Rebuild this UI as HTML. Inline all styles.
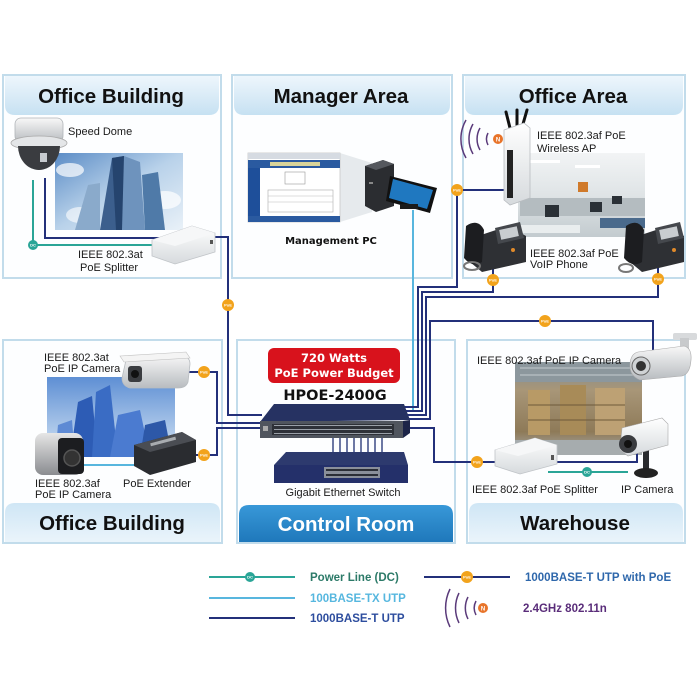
<!DOCTYPE html>
<html><head><meta charset="utf-8">
<style>
html,body{margin:0;padding:0;background:#fff;}
svg{display:block;}
.lbl{font-family:"Liberation Sans",Arial,sans-serif;font-size:11px;fill:#1a1a1a;}
.hdr{font-family:"Liberation Sans",Arial,sans-serif;font-size:20.5px;font-weight:bold;fill:#111;}
.leg{font-family:"Liberation Sans",Arial,sans-serif;font-size:11.5px;font-weight:bold;}
.poe{font-family:"Liberation Sans",Arial,sans-serif;font-size:4px;font-weight:bold;fill:#fff;}
</style></head>
<body>
<svg width="699" height="699" viewBox="0 0 699 699" xmlns="http://www.w3.org/2000/svg">
<defs>
<linearGradient id="hg" x1="0" y1="0" x2="0" y2="1"><stop offset="0" stop-color="#eef6fc"/><stop offset="1" stop-color="#c6e1f2"/></linearGradient>
<linearGradient id="hgb" x1="0" y1="0" x2="0" y2="1"><stop offset="0" stop-color="#cfe6f5"/><stop offset="1" stop-color="#eaf4fb"/></linearGradient>
<linearGradient id="cr" x1="0" y1="0" x2="0" y2="1"><stop offset="0" stop-color="#3898d8"/><stop offset="1" stop-color="#1f78bb"/></linearGradient>
<linearGradient id="sky1" x1="0" y1="0" x2="1" y2="1"><stop offset="0" stop-color="#5b8cc6"/><stop offset="0.5" stop-color="#b9d2ea"/><stop offset="1" stop-color="#e9f1f8"/></linearGradient>
<linearGradient id="sky2" x1="0" y1="0" x2="0" y2="1"><stop offset="0" stop-color="#5e8fd4"/><stop offset="1" stop-color="#d6e6f5"/></linearGradient>
<linearGradient id="off" x1="0" y1="0" x2="0" y2="1"><stop offset="0" stop-color="#f2f4f5"/><stop offset="0.5" stop-color="#dfe4e6"/><stop offset="1" stop-color="#c3cbcf"/></linearGradient>
<linearGradient id="wh" x1="0" y1="0" x2="0" y2="1"><stop offset="0" stop-color="#7f8b92"/><stop offset="0.3" stop-color="#a89678"/><stop offset="0.75" stop-color="#8e7a58"/><stop offset="1" stop-color="#a9aeb0"/></linearGradient>
<linearGradient id="wbox" x1="0" y1="0" x2="0" y2="1"><stop offset="0" stop-color="#ffffff"/><stop offset="1" stop-color="#d6dadd"/></linearGradient>
<linearGradient id="cam" x1="0" y1="0" x2="0" y2="1"><stop offset="0" stop-color="#f8f8f8"/><stop offset="1" stop-color="#b8bcc0"/></linearGradient>
<linearGradient id="silv" x1="0" y1="0" x2="0" y2="1"><stop offset="0" stop-color="#e6e6e6"/><stop offset="1" stop-color="#8a8c90"/></linearGradient>
</defs>

<!-- Panels -->
<g fill="#fdfeff" stroke="#c2dceb" stroke-width="2">
<rect x="3" y="75" width="218" height="203"/>
<rect x="232" y="75" width="220" height="203"/>
<rect x="463" y="75" width="222" height="203"/>
<rect x="3" y="340" width="219" height="203"/>
<rect x="237" y="340" width="218" height="203"/>
<rect x="467" y="340" width="218" height="203"/>
</g>
<!-- Headers top -->
<path d="M5,76 H219 V105 Q219,115 209,115 H15 Q5,115 5,105 Z" fill="url(#hg)"/>
<path d="M234,76 H450 V105 Q450,115 440,115 H244 Q234,115 234,105 Z" fill="url(#hg)"/>
<path d="M465,76 H683 V105 Q683,115 673,115 H475 Q465,115 465,105 Z" fill="url(#hg)"/>
<!-- Headers bottom -->
<path d="M5,542 V513 Q5,503 15,503 H210 Q220,503 220,513 V542 Z" fill="url(#hgb)"/>
<path d="M469,542 V513 Q469,503 479,503 H673 Q683,503 683,513 V542 Z" fill="url(#hgb)"/>
<path d="M239,542 V515 Q239,505 249,505 H443 Q453,505 453,515 V542 Z" fill="url(#cr)"/>

<text class="hdr" x="111" y="103" text-anchor="middle">Office Building</text>
<text class="hdr" x="341" y="103" text-anchor="middle">Manager Area</text>
<text class="hdr" x="573" y="103" text-anchor="middle">Office Area</text>
<text class="hdr" x="112" y="530" text-anchor="middle">Office Building</text>
<text class="hdr" x="346" y="531" text-anchor="middle" style="fill:#fff">Control Room</text>
<text class="hdr" x="575" y="530" text-anchor="middle">Warehouse</text>

<!-- ============ Photos ============ -->
<g>
<rect x="55" y="153" width="128" height="77" fill="url(#sky1)"/>
<ellipse cx="70" cy="170" rx="14" ry="7" fill="#fff" opacity="0.7"/>
<ellipse cx="165" cy="200" rx="16" ry="9" fill="#fff" opacity="0.7"/>
<ellipse cx="80" cy="215" rx="14" ry="8" fill="#fff" opacity="0.6"/>
<polygon points="100,230 112,158 124,156 120,230" fill="#3c5f8d"/>
<polygon points="120,230 124,156 140,162 145,230" fill="#6e93bd"/>
<polygon points="145,230 142,175 158,172 165,230" fill="#4f7aa8"/>
<polygon points="75,230 88,185 100,183 100,230" fill="#8aaacb"/>
<polygon points="112,158 124,156 122,230 116,230" fill="#25446e"/>
</g>
<g>
<rect x="518" y="153" width="127" height="84" fill="url(#off)"/>
<rect x="530" y="160" width="30" height="3" fill="#fff"/>
<rect x="575" y="165" width="25" height="3" fill="#fff"/>
<rect x="578" y="182" width="10" height="10" fill="#d07a2a"/>
<rect x="520" y="198" width="125" height="18" fill="#b4bcc0"/>
<rect x="545" y="205" width="14" height="12" fill="#2a3036"/>
<rect x="590" y="202" width="12" height="10" fill="#2a3036"/>
<rect x="612" y="196" width="10" height="8" fill="#2a3036"/>
<rect x="600" y="218" width="45" height="10" fill="#4a6a8c"/>
<rect x="520" y="225" width="60" height="8" fill="#e9edee"/>
</g>
<g>
<rect x="47" y="377" width="128" height="80" fill="url(#sky2)"/>
<polygon points="70,457 78,402 92,396 98,457" fill="#2d5cb5"/>
<polygon points="92,457 96,392 110,385 118,457" fill="#3a6cc4"/>
<polygon points="110,457 118,415 140,410 150,457" fill="#4b7bd0"/>
<polygon points="140,457 145,425 165,420 172,457" fill="#2d58a8"/>
<polygon points="55,457 58,425 72,420 75,457" fill="#5e8ad4"/>
</g>
<g>
<rect x="515" y="362" width="127" height="93" fill="url(#wh)"/>
<rect x="515" y="362" width="127" height="20" fill="#8c979d"/>
<line x1="520" y1="368" x2="640" y2="368" stroke="#c4cbd0" stroke-width="1"/>
<line x1="520" y1="375" x2="640" y2="375" stroke="#c4cbd0" stroke-width="1"/>
<rect x="528" y="390" width="22" height="45" fill="#b89a66"/>
<rect x="560" y="385" width="26" height="50" fill="#a88b58"/>
<rect x="595" y="388" width="30" height="47" fill="#bda174"/>
<line x1="528" y1="405" x2="625" y2="405" stroke="#6e5a3a" stroke-width="1"/>
<line x1="528" y1="420" x2="625" y2="420" stroke="#6e5a3a" stroke-width="1"/>
<rect x="515" y="440" width="127" height="15" fill="#a6acae"/>
</g>

<!-- ============ Connectors ============ -->
<g fill="none" stroke-width="2" stroke-linejoin="miter">
<path d="M413,210 V410" stroke="#58b6de"/>
<path d="M33,180 V245 H158" stroke="#2aa597"/>
<path d="M45,178 V238 H160" stroke="#23307a"/>
<path d="M212,237 H228 V415 H262" stroke="#23307a"/>
<path d="M186,372 H217 V423 H262" stroke="#23307a"/>
<path d="M192,455 H217 V428 H262" stroke="#23307a"/>
<path d="M82,465 H135" stroke="#58b6de"/>
<path d="M404,407 H418 V287 H457 V190 H508" stroke="#23307a"/>
<path d="M404,411 H422 V292 H493 V268" stroke="#23307a"/>
<path d="M404,415 H426 V297 H658 V268" stroke="#23307a"/>
<path d="M404,419 H430 V321 H653 V350" stroke="#23307a"/>
<path d="M404,428 H434 V462 H497" stroke="#23307a"/>
<path d="M552,462 H637 V452" stroke="#23307a"/>
<path d="M548,472 H628" stroke="#2aa597"/>
<g stroke="#3d4b85" stroke-width="1.5">
<line x1="333" y1="438" x2="333" y2="458"/><line x1="340" y1="438" x2="340" y2="458"/>
<line x1="347" y1="438" x2="347" y2="458"/><line x1="354" y1="438" x2="354" y2="458"/>
<line x1="361" y1="438" x2="361" y2="458"/><line x1="368" y1="438" x2="368" y2="458"/>
<line x1="375" y1="438" x2="375" y2="458"/><line x1="382" y1="438" x2="382" y2="458"/>
</g>
</g>

<!-- ============ Devices ============ -->
<g>
<rect x="15" y="118" width="48" height="24" rx="6" fill="url(#cam)" stroke="#b0b4b8" stroke-width="0.8"/>
<ellipse cx="39" cy="143" rx="28" ry="7" fill="#e4e6e8" stroke="#aaa" stroke-width="0.8"/>
<path d="M18,146 A21,24 0 0 0 60,146 Z" fill="#3a3c40"/>
<rect x="40" y="153" width="7" height="9" fill="#c8ccd0"/>
</g>
<g>
<path d="M152,240 L192,226 L215,233 L215,252 L175,264 L152,256 Z" fill="url(#wbox)" stroke="#c0c4c8" stroke-width="0.8"/>
<path d="M152,240 L192,226 L215,233 L175,246 Z" fill="#f6f7f8"/>
<rect x="210" y="240" width="3" height="4" fill="#555"/>
</g>
<text class="lbl" x="68" y="135">Speed Dome</text>
<text class="lbl" x="78" y="258">IEEE 802.3at</text>
<text class="lbl" x="80" y="271">PoE Splitter</text>

<g>
<polygon points="340,153 372,163 372,212 340,222" fill="#e6eaed"/>
<rect x="248" y="153" width="92" height="69" fill="#fff" stroke="#c8c8c8" stroke-width="0.8"/>
<rect x="248" y="153" width="92" height="6" fill="#d6dbe2"/>
<rect x="248" y="160" width="92" height="8" fill="#2a5aa0"/>
<rect x="270" y="162" width="50" height="4" fill="#d8d49a"/>
<rect x="248" y="168" width="12" height="50" fill="#1e4f9a"/>
<rect x="285" y="172" width="20" height="12" fill="none" stroke="#999" stroke-width="0.6"/>
<rect x="268" y="190" width="65" height="22" fill="none" stroke="#aaa" stroke-width="0.6"/>
<line x1="268" y1="196" x2="333" y2="196" stroke="#bbb" stroke-width="0.5"/>
<line x1="268" y1="202" x2="333" y2="202" stroke="#bbb" stroke-width="0.5"/>
<rect x="248" y="216" width="92" height="6" fill="#2a5aa0"/>
<polygon points="365,166 383,160 394,164 394,206 376,212 365,206" fill="#2b2d31"/>
<polygon points="365,166 383,160 394,164 376,170" fill="#55585e"/>
<rect x="369" y="182" width="4" height="2" fill="#888"/>
<polygon points="390,176 437,188 430,213 386,201" fill="#111"/>
<polygon points="393,179 433,190 427,209 389,198" fill="#1f78c0"/>
<rect x="400" y="204" width="18" height="5" fill="#1b1b1b"/>
</g>
<text x="331" y="244" text-anchor="middle" style="font-family:'DejaVu Sans',Verdana,sans-serif;font-size:10px;font-weight:bold;fill:#111">Management PC</text>

<g>
<g stroke="#111" stroke-width="3" stroke-linecap="round">
<line x1="510" y1="128" x2="506" y2="112"/><line x1="517" y1="126" x2="517" y2="110"/><line x1="523" y1="124" x2="527" y2="110"/>
</g>
<polygon points="504,130 524,123 530,128 530,198 510,205 504,200" fill="url(#wbox)" stroke="#b8bcc0" stroke-width="0.8"/>
<rect x="507" y="150" width="6" height="48" fill="#222"/>
</g>
<g fill="none" stroke="#5a3a7a" stroke-width="1.5">
<path d="M488,133 A13,13 0 0 0 488,145"/>
<path d="M480,128 A22,22 0 0 0 480,150"/>
<path d="M473,124 A30,30 0 0 0 473,154"/>
<path d="M466,120 A38,38 0 0 0 466,158"/>
</g>
<circle cx="498" cy="139" r="5" fill="#e8742a"/>
<text x="498" y="141.5" text-anchor="middle" style="font-family:'Liberation Sans',sans-serif;font-size:6px;font-weight:bold;fill:#fff">N</text>
<text class="lbl" x="537" y="139">IEEE 802.3af PoE</text>
<text class="lbl" x="537" y="152">Wireless AP</text>

<g>
<polygon points="472,238 508,226 526,236 526,262 482,272 470,262" fill="#2e3034"/>
<polygon points="495,228 520,222 524,238 498,244" fill="#45484d"/>
<rect x="500" y="228" width="18" height="10" fill="#c9cdd0" transform="rotate(-12 509 233)"/>
<path d="M466,226 Q478,218 484,230 L482,262 Q472,268 464,258 Z" fill="#1c1d20"/>
<ellipse cx="472" cy="266" rx="8" ry="4" fill="none" stroke="#777" stroke-width="2"/>
<circle cx="513" cy="250" r="2" fill="#e08a2a"/>
</g>
<text class="lbl" x="530" y="257">IEEE 802.3af PoE</text>
<text class="lbl" x="530" y="268">VoIP Phone</text>
<g>
<polygon points="632,238 668,226 684,236 684,262 642,272 630,262" fill="#2e3034"/>
<polygon points="655,228 680,222 684,238 658,244" fill="#45484d"/>
<rect x="660" y="228" width="18" height="10" fill="#c9cdd0" transform="rotate(-12 669 233)"/>
<path d="M626,226 Q638,218 644,230 L642,262 Q632,268 624,258 Z" fill="#1c1d20"/>
<ellipse cx="626" cy="268" rx="7" ry="4" fill="none" stroke="#777" stroke-width="2"/>
<circle cx="674" cy="250" r="2" fill="#e08a2a"/>
</g>

<g>
<path d="M126,360 L180,355 Q190,356 190,364 L188,382 Q186,388 178,388 L130,388 Q122,386 122,378 Z" fill="url(#cam)" stroke="#b8bcc0" stroke-width="0.8"/>
<path d="M120,356 L186,352 L190,358 L124,362 Z" fill="#f4f4f4" stroke="#c0c0c0" stroke-width="0.6"/>
<rect x="128" y="366" width="14" height="16" rx="3" fill="#3a3c40"/>
<circle cx="135" cy="374" r="4" fill="#111"/>
</g>
<text class="lbl" x="44" y="361">IEEE 802.3at</text>
<text class="lbl" x="44" y="372">PoE IP Camera</text>
<g>
<rect x="35" y="433" width="48" height="42" rx="8" fill="url(#silv)"/>
<rect x="58" y="438" width="26" height="36" rx="4" fill="#1c1d20"/>
<circle cx="72" cy="458" r="8" fill="#333" stroke="#555" stroke-width="1.5"/>
</g>
<g>
<polygon points="134,445 182,432 196,440 196,462 150,475 134,466" fill="#2a2c30"/>
<polygon points="134,445 182,432 196,440 150,452" fill="#4a4d53"/>
<rect x="150" y="440" width="26" height="3" fill="#a8acb0" transform="rotate(-15 163 441)"/>
</g>
<text class="lbl" x="35" y="487">IEEE 802.3af</text>
<text class="lbl" x="35" y="498">PoE IP Camera</text>
<text class="lbl" x="123" y="487">PoE Extender</text>

<rect x="268" y="348" width="132" height="35" rx="6" fill="#d8121c"/>
<text x="334" y="362" text-anchor="middle" style="font-family:'DejaVu Sans',Verdana,sans-serif;font-size:11.5px;font-weight:bold;fill:#fff">720 Watts</text>
<text x="334" y="377" text-anchor="middle" style="font-family:'DejaVu Sans',Verdana,sans-serif;font-size:11.5px;font-weight:bold;fill:#fff">PoE Power Budget</text>
<text x="335" y="400" text-anchor="middle" style="font-family:'DejaVu Sans',Verdana,sans-serif;font-size:14.5px;font-weight:bold;fill:#111">HPOE-2400G</text>
<g>
<polygon points="274,404 404,404 410,420 260,422" fill="#263262"/>
<rect x="260" y="421" width="143" height="17" fill="#50555e"/>
<polygon points="403,421 410,420 410,433 403,438" fill="#1c2448"/>
<rect x="272" y="424" width="122" height="11" fill="#2e3138"/>
<g fill="#9aa0a8">
<rect x="274" y="425" width="118" height="1"/><rect x="274" y="429" width="118" height="1"/><rect x="274" y="433" width="118" height="1"/>
</g>
<rect x="263" y="426" width="5" height="5" fill="#aaa"/>
</g>
<g>
<polygon points="286,452 404,452 408,465 274,465" fill="#2d3a6e"/>
<rect x="274" y="465" width="134" height="18" fill="#24306a"/>
<rect x="324" y="467" width="56" height="11" fill="#8a8f9a"/>
<g fill="#2b2e36">
<rect x="326" y="469" width="52" height="2"/><rect x="326" y="474" width="52" height="2"/>
</g>
</g>
<text class="lbl" x="343" y="496" text-anchor="middle">Gigabit Ethernet Switch</text>

<g>
<rect x="673" y="333" width="24" height="7" rx="2" fill="#d8dadc"/>
<rect x="680" y="338" width="9" height="16" fill="#c8cacc"/>
<path d="M638,352 L684,346 Q692,348 691,360 Q690,374 682,376 L640,380 Q630,376 630,366 Q630,354 638,352 Z" fill="url(#cam)" stroke="#aaa" stroke-width="0.6"/>
<circle cx="641" cy="366" r="9" fill="#cfd2d4" stroke="#666" stroke-width="1"/>
<circle cx="641" cy="366" r="5" fill="#333"/>
</g>
<text class="lbl" x="477" y="364">IEEE 802.3af PoE IP Camera</text>
<g>
<rect x="643" y="447" width="6" height="24" fill="#2a2b2e"/>
<ellipse cx="646" cy="473" rx="12" ry="5" fill="#222"/>
<path d="M622,428 L662,418 L668,424 L668,445 L628,456 L620,450 Z" fill="url(#wbox)" stroke="#aaa" stroke-width="0.6"/>
<circle cx="628" cy="444" r="9" fill="#3a3c40"/>
<circle cx="628" cy="444" r="4" fill="#111"/>
</g>
<g>
<path d="M495,450 L535,438 L557,445 L557,464 L520,474 L495,466 Z" fill="url(#wbox)" stroke="#c0c4c8" stroke-width="0.8"/>
<path d="M495,450 L535,438 L557,445 L518,456 Z" fill="#f6f7f8"/>
<rect x="551" y="455" width="3" height="5" fill="#555"/>
</g>
<text class="lbl" x="472" y="493">IEEE 802.3af PoE Splitter</text>
<text class="lbl" x="621" y="493">IP Camera</text>

<g>
<circle cx="228" cy="305" r="6" fill="#f2a31c"/><text class="poe" x="228" y="306.5" text-anchor="middle">PoE</text>
<circle cx="204" cy="372" r="6" fill="#f2a31c"/><text class="poe" x="204" y="373.5" text-anchor="middle">PoE</text>
<circle cx="204" cy="455" r="6" fill="#f2a31c"/><text class="poe" x="204" y="456.5" text-anchor="middle">PoE</text>
<circle cx="457" cy="190" r="6" fill="#f2a31c"/><text class="poe" x="457" y="191.5" text-anchor="middle">PoE</text>
<circle cx="493" cy="280" r="6" fill="#f2a31c"/><text class="poe" x="493" y="281.5" text-anchor="middle">PoE</text>
<circle cx="658" cy="279" r="6" fill="#f2a31c"/><text class="poe" x="658" y="280.5" text-anchor="middle">PoE</text>
<circle cx="545" cy="321" r="6" fill="#f2a31c"/><text class="poe" x="545" y="322.5" text-anchor="middle">PoE</text>
<circle cx="477" cy="462" r="6" fill="#f2a31c"/><text class="poe" x="477" y="463.5" text-anchor="middle">PoE</text>
<circle cx="33" cy="245" r="5" fill="#2aa597"/><text class="poe" x="33" y="246.5" text-anchor="middle">DC</text>
<circle cx="587" cy="472" r="5" fill="#2aa597"/><text class="poe" x="587" y="473.5" text-anchor="middle">DC</text>
</g>

<g stroke-width="2">
<line x1="209" y1="577" x2="295" y2="577" stroke="#2aa597"/>
<line x1="209" y1="598" x2="295" y2="598" stroke="#58b6de"/>
<line x1="209" y1="618" x2="295" y2="618" stroke="#23307a"/>
<line x1="424" y1="577" x2="510" y2="577" stroke="#23307a"/>
</g>
<circle cx="250" cy="577" r="5" fill="#2aa597"/><text class="poe" x="250" y="578.5" text-anchor="middle">DC</text>
<circle cx="467" cy="577" r="6" fill="#f2a31c"/><text class="poe" x="467" y="578.5" text-anchor="middle">PoE</text>
<g fill="none" stroke="#5a3a7a" stroke-width="1.5">
<path d="M476,601 A15,15 0 0 0 476,615"/>
<path d="M468,597 A24,24 0 0 0 468,619"/>
<path d="M459,593 A34,34 0 0 0 459,623"/>
<path d="M450,589 A43,43 0 0 0 450,627"/>
</g>
<circle cx="483" cy="608" r="5" fill="#e8742a"/>
<text x="483" y="610.5" text-anchor="middle" style="font-family:'Liberation Sans',sans-serif;font-size:6px;font-weight:bold;fill:#fff">N</text>
<text class="leg" x="310" y="581" style="fill:#2c7a68">Power Line (DC)</text>
<text class="leg" x="310" y="602" style="fill:#56b7df">100BASE-TX UTP</text>
<text class="leg" x="310" y="622" style="fill:#2d4d9e">1000BASE-T UTP</text>
<text class="leg" x="525" y="581" style="fill:#2e67ab">1000BASE-T UTP with PoE</text>
<text class="leg" x="523" y="612" style="fill:#5a2d7a">2.4GHz 802.11n</text>
</svg>
</body></html>
